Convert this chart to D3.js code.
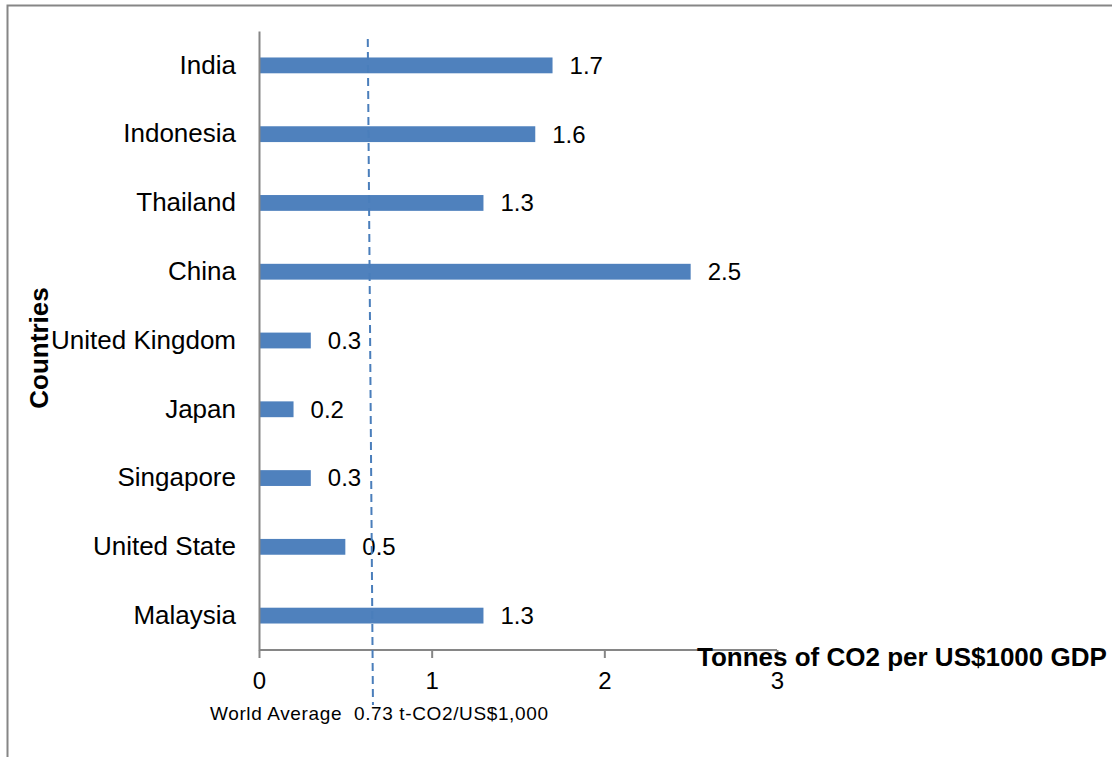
<!DOCTYPE html>
<html>
<head>
<meta charset="utf-8">
<script src="https://cdn.jsdelivr.net/npm/d3@7"></script>
<style>
  html, body { margin: 0; padding: 0; background: #fff; }
  svg { display: block; }
  text { font-family: "Liberation Sans", Arial, sans-serif; fill: #000; }
</style>
</head>
<body>
<script>
const categories = ["India", "Indonesia", "Thailand", "China", "United Kingdom", "Japan", "Singapore", "United State", "Malaysia"];
const values = [1.7, 1.6, 1.3, 2.5, 0.3, 0.2, 0.3, 0.5, 1.3];
const xTicks = [0, 1, 2, 3];
const worldAvgLine = [0.63, 0.66]; // drawn position at top and bottom of dashed line
const worldAvgLabel = "World Average  0.73 t-CO2/US$1,000";
const xTitle = "Tonnes of CO2 per US$1000 GDP";
const yTitle = "Countries";

const W = 1112, H = 757;
const svg = d3.select("body").append("svg").attr("width", W).attr("height", H);

// outer border
svg.append("path")
  .attr("d", `M7.5,${H + 5} L7.5,5.5 L${W + 5},5.5`)
  .attr("fill", "none").attr("stroke", "#868686").attr("stroke-width", 2);

const x = d3.scaleLinear().domain([0, 3]).range([259, 777]);
const y = d3.scaleBand().domain(categories).range([31, 650]).paddingInner(0.77).paddingOuter(0.385);

// bars
svg.append("g").selectAll("rect").data(values).join("rect")
  .attr("x", x(0))
  .attr("y", (d, i) => y(categories[i]))
  .attr("width", d => x(d) - x(0))
  .attr("height", y.bandwidth())
  .attr("fill", "#4f81bd");

// axes
const xAxis = svg.append("g").attr("transform", "translate(0,650)")
  .call(d3.axisBottom(x).tickValues(xTicks).tickSize(8).tickPadding(14).tickFormat(d3.format("d")));
xAxis.select(".domain").attr("stroke", "#868686").attr("stroke-width", 2).attr("d", `M${x(0)},0H${x(3)}`);
xAxis.selectAll(".tick line").attr("stroke", "#868686").attr("stroke-width", 2);
xAxis.selectAll(".tick text").attr("font-size", 24).attr("font-family", "Liberation Sans, Arial, sans-serif").attr("fill", "#000");

const yAxis = svg.append("g").attr("transform", `translate(${x(0)},0)`)
  .call(d3.axisLeft(y).tickSize(0).tickPadding(23));
yAxis.select(".domain").attr("stroke", "#868686").attr("stroke-width", 2);
yAxis.selectAll(".tick text").attr("font-size", 26).attr("font-family", "Liberation Sans, Arial, sans-serif").attr("fill", "#000");

// data labels
svg.append("g").selectAll("text").data(values).join("text")
  .attr("x", d => x(d) + 17)
  .attr("y", (d, i) => y(categories[i]) + y.bandwidth() / 2)
  .attr("dy", "0.35em")
  .attr("font-size", 24)
  .text(d => d3.format(".1f")(d));

// world average dashed line
svg.append("line")
  .attr("x1", x(worldAvgLine[0])).attr("y1", 39)
  .attr("x2", x(worldAvgLine[1])).attr("y2", 705)
  .attr("stroke", "#4a7ebb").attr("stroke-width", 2)
  .attr("stroke-dasharray", "8,5");

// world average label
svg.append("text")
  .attr("x", 210).attr("y", 720)
  .attr("font-size", 19)
  .attr("textLength", 338)
  .attr("lengthAdjust", "spacing")
  .attr("xml:space", "preserve")
  .style("white-space", "pre")
  .text(worldAvgLabel);

// axis titles
svg.append("text")
  .attr("x", 697).attr("y", 666)
  .attr("font-size", 26).attr("font-weight", "bold")
  .text(xTitle);

svg.append("text")
  .attr("transform", "translate(48,348) rotate(-90)")
  .attr("text-anchor", "middle")
  .attr("font-size", 26).attr("font-weight", "bold")
  .text(yTitle);
</script>
</body>
</html>
